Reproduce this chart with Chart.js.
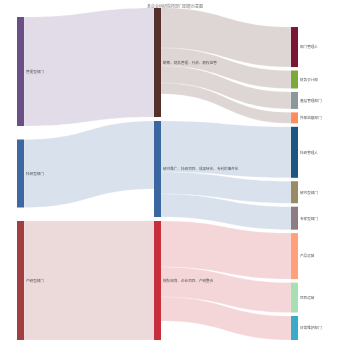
<!DOCTYPE html>
<html>
<head>
<meta charset="utf-8">
<script src="https://cdn.jsdelivr.net/npm/chart.js@4/dist/chart.umd.min.js"></script>
<style>
  body { margin: 0; background: #fff; }
</style>
</head>
<body>
<canvas id="sankeyChart" width="350" height="350"></canvas>
<script>
// 节点：名称与所在列
const nodeNames = [
  '管理型部门', '科研型部门', '产研型部门',
  '统筹、财务管理、行政、职权监管',
  '研究推广、科研项目、成果转化、专利的事件化',
  '按照规划、企业项目、产研整合',
  '部门管理人', '财务会计部', '基层管理部门', '外部监督部门',
  '科研管理人', '研究型部门', '专家型部门',
  '产品运营', '项目运营', '日常维护部门'
];
const nodeColumns = [0, 0, 0, 1, 1, 1, 2, 2, 2, 2, 2, 2, 2, 2, 2, 2];

// 连线：来源、目标、数值
const linkSources = [0, 1, 2, 3, 3, 3, 3, 4, 4, 4, 5, 5, 5];
const linkTargets = [3, 4, 5, 6, 7, 8, 9, 10, 11, 12, 13, 14, 15];
const linkValues  = [109, 68, 119, 40, 18, 17, 11, 51, 22, 23, 46, 30, 24];

const chartTitle = '某企业科研院所部门职能示意图';

// 样式
const nodeColors = [
  '#6a4f88', '#3d68a0', '#a23f40',
  '#55302b', '#3b67a1', '#c7303a',
  '#7a1535', '#7fa83b', '#8a989e', '#ff8c5c',
  '#1d5781', '#9b8a66', '#8d7c81',
  '#ffa07a', '#a9e0b3', '#3ba9c9'
];
const columnGaps = [13.5, 4, 3.44];
const nodeWidth = 7;
const yMax = 332;
const fontFamily = '"Noto Sans CJK SC", "Noto Sans", sans-serif';

function hexToRgba(hex, a) {
  const n = parseInt(hex.slice(1), 16);
  return `rgba(${(n >> 16) & 255}, ${(n >> 8) & 255}, ${n & 255}, ${a})`;
}

// 计算节点数值与纵向位置（数值单位，各列底部对齐）
function layoutNodes() {
  const nodes = nodeNames.map((name, i) => {
    let inSum = 0, outSum = 0;
    linkSources.forEach((s, k) => { if (s === i) outSum += linkValues[k]; });
    linkTargets.forEach((t, k) => { if (t === i) inSum += linkValues[k]; });
    return { name, col: nodeColumns[i], value: Math.max(inSum, outSum), color: nodeColors[i] };
  });
  const cols = [...new Set(nodeColumns)];
  cols.forEach(c => {
    const members = nodes.filter(n => n.col === c);
    const total = members.reduce((a, n) => a + n.value, 0) + columnGaps[c] * (members.length - 1);
    let pos = yMax - total;
    members.forEach(n => {
      n.y0 = pos;
      n.y1 = pos + n.value;
      pos = n.y1 + columnGaps[c];
    });
  });
  return nodes;
}

const sankeyPlugin = {
  id: 'sankey',
  afterDatasetsDraw(chart) {
    const { ctx, scales: { x, y } } = chart;
    const nodes = layoutNodes();
    const outOffset = nodes.map(n => n.y0);
    const inOffset = nodes.map(n => n.y0);

    ctx.save();

    // 连线
    linkValues.forEach((v, k) => {
      const s = nodes[linkSources[k]];
      const t = nodes[linkTargets[k]];
      const sy0 = outOffset[linkSources[k]];
      const ty0 = inOffset[linkTargets[k]];
      outOffset[linkSources[k]] += v;
      inOffset[linkTargets[k]] += v;

      const x0 = x.getPixelForValue(s.col) + nodeWidth;
      const x1 = x.getPixelForValue(t.col);
      const xm = (x0 + x1) / 2;
      const a0 = y.getPixelForValue(sy0), a1 = y.getPixelForValue(sy0 + v);
      const b0 = y.getPixelForValue(ty0), b1 = y.getPixelForValue(ty0 + v);

      ctx.beginPath();
      ctx.moveTo(x0, a0);
      ctx.bezierCurveTo(xm, a0, xm, b0, x1, b0);
      ctx.lineTo(x1, b1);
      ctx.bezierCurveTo(xm, b1, xm, a1, x0, a1);
      ctx.closePath();
      ctx.fillStyle = hexToRgba(s.color, 0.2);
      ctx.fill();
      ctx.strokeStyle = 'rgba(255, 255, 255, 0.55)';
      ctx.lineWidth = 0.4;
      ctx.stroke();
    });

    // 节点与标签
    ctx.font = `3.6px ${fontFamily}`;
    ctx.textBaseline = 'middle';
    ctx.textAlign = 'left';
    nodes.forEach(n => {
      const px = x.getPixelForValue(n.col);
      const top = y.getPixelForValue(n.y0);
      const bottom = y.getPixelForValue(n.y1);
      ctx.fillStyle = n.color;
      ctx.fillRect(px, top, nodeWidth, bottom - top);
      ctx.fillStyle = '#555';
      ctx.fillText(n.name, px + nodeWidth + 2, (top + bottom) / 2);
    });

    // 标题
    ctx.font = `4px ${fontFamily}`;
    ctx.textAlign = 'center';
    ctx.fillStyle = '#777';
    ctx.fillText(chartTitle, chart.width / 2, 6);

    ctx.restore();
  }
};

new Chart(document.getElementById('sankeyChart'), {
  type: 'scatter',
  data: { datasets: [{ data: [] }] },
  options: {
    responsive: false,
    animation: false,
    layout: { padding: { left: 17, right: 59, top: 8, bottom: 10 } },
    scales: {
      x: { type: 'linear', min: 0, max: 2, display: false },
      y: { type: 'linear', min: 0, max: yMax, reverse: true, display: false }
    },
    plugins: {
      legend: { display: false },
      tooltip: { enabled: false }
    }
  },
  plugins: [sankeyPlugin]
});
</script>
</body>
</html>
